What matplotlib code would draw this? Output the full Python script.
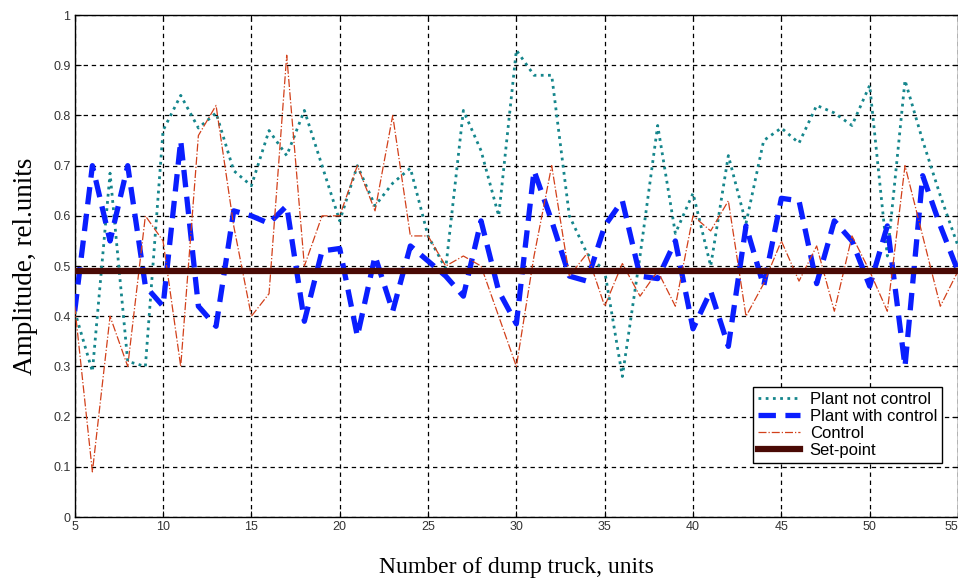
import matplotlib
matplotlib.use('Agg')
import matplotlib.pyplot as plt

# Dump truck numbers
trucks = list(range(5, 56))

plant_no_control = [0.41, 0.29, 0.685, 0.31, 0.30, 0.77, 0.84, 0.775, 0.805, 0.69,
                    0.66, 0.77, 0.72, 0.81, 0.70, 0.59, 0.70, 0.62, 0.665, 0.695,
                    0.56, 0.495, 0.81, 0.73, 0.60, 0.93, 0.88, 0.88, 0.60, 0.525,
                    0.49, 0.28, 0.52, 0.78, 0.565, 0.645, 0.50, 0.72, 0.585, 0.75,
                    0.775, 0.745, 0.82, 0.805, 0.78, 0.86, 0.52, 0.87, 0.75, 0.64,
                    0.54]

plant_with_control = [0.41, 0.70, 0.55, 0.70, 0.46, 0.42, 0.75, 0.42, 0.38, 0.61,
                      0.60, 0.585, 0.62, 0.39, 0.53, 0.535, 0.36, 0.52, 0.41, 0.54,
                      0.51, 0.48, 0.44, 0.59, 0.45, 0.385, 0.69, 0.59, 0.48, 0.47,
                      0.58, 0.63, 0.48, 0.475, 0.55, 0.375, 0.45, 0.34, 0.58, 0.46,
                      0.635, 0.63, 0.465, 0.59, 0.55, 0.46, 0.58, 0.30, 0.68, 0.58,
                      0.49]

control = [0.42, 0.09, 0.40, 0.30, 0.60, 0.55, 0.30, 0.76, 0.82, 0.58,
           0.40, 0.445, 0.92, 0.50, 0.60, 0.60, 0.70, 0.61, 0.80, 0.56,
           0.56, 0.50, 0.52, 0.50, 0.40, 0.30, 0.52, 0.70, 0.48, 0.525,
           0.42, 0.505, 0.44, 0.49, 0.42, 0.60, 0.57, 0.63, 0.40, 0.465,
           0.55, 0.47, 0.54, 0.41, 0.56, 0.49, 0.41, 0.70, 0.56, 0.42,
           0.49]

set_point = 0.49

x_ticks = [5, 10, 15, 20, 25, 30, 35, 40, 45, 50, 55]
y_ticks = [0, 0.1, 0.2, 0.3, 0.4, 0.5, 0.6, 0.7, 0.8, 0.9, 1]
y_tick_labels = ['0', '0.1', '0.2', '0.3', '0.4', '0.5', '0.6', '0.7', '0.8', '0.9', '1']

fig = plt.figure(figsize=(9.58, 5.79), dpi=100)
ax = fig.add_axes([0.078, 0.107, 0.922, 0.867])

ax.plot(trucks, plant_no_control, color='#15868c', linestyle=(0, (1, 1.6)),
        linewidth=2.0, label='Plant not control', zorder=3)
ax.plot(trucks, plant_with_control, color='#0a1eff', linestyle=(0, (3.3, 1.8)),
        linewidth=3.8, label='Plant with control', zorder=4)
ax.plot(trucks, control, color='#d2401a', linestyle='-.',
        linewidth=0.9, label='Control', zorder=5)
ax.plot([trucks[0], trucks[-1]], [set_point, set_point], color='#4a0a05',
        linewidth=4.5, label='Set-point', zorder=6)

ax.set_xlim(5, 55)
ax.set_ylim(0, 1)
ax.set_xticks(x_ticks)
ax.set_xticklabels([str(t) for t in x_ticks])
ax.set_yticks(y_ticks)
ax.set_yticklabels(y_tick_labels)
ax.tick_params(direction='in', length=4, top=True, right=True,
               labelsize=9, labelcolor='#333333', pad=3)
for lbl in ax.get_xticklabels() + ax.get_yticklabels():
    lbl.set_family('Liberation Sans')
# keep the last x label inside the figure
ax.get_xticklabels()[-1].set_horizontalalignment('right')

ax.grid(True, color='black', linestyle=(0, (3.5, 3)), linewidth=0.9)
for s in ax.spines.values():
    s.set_linewidth(1.0)

ax.set_xlabel('Number of dump truck, units', family='Liberation Serif',
              fontsize=17, labelpad=17)
ax.set_ylabel('Amplitude, rel.units', family='Liberation Serif',
              fontsize=19.5, labelpad=11)

leg = ax.legend(loc='lower right', bbox_to_anchor=(0.982, 0.108),
                borderaxespad=0, fancybox=False, framealpha=1,
                edgecolor='black', prop={'family': 'Liberation Sans', 'size': 12},
                handlelength=2.5, labelspacing=0.12, borderpad=0.3,
                handletextpad=0.6)
leg.get_frame().set_linewidth(1.0)

fig.savefig('out.png', dpi=100)
